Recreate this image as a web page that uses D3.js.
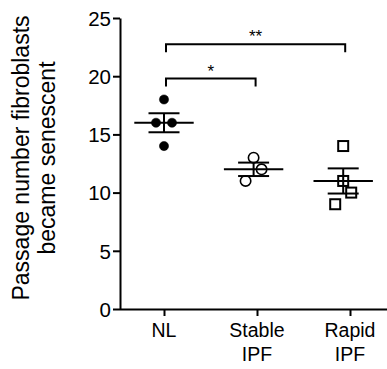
<!DOCTYPE html>
<html>
<head>
<meta charset="utf-8">
<script src="https://cdn.jsdelivr.net/npm/d3@7/dist/d3.min.js"></script>
<style>
  body { margin: 0; background: #fff; }
  svg text { font-family: "Liberation Sans", Arial, sans-serif; fill: #000; }
</style>
</head>
<body>
<div id="chart"></div>
<script>
// Data
var groups = ["NL", "Stable IPF", "Rapid IPF"];
var nlValues = [18, 16, 16, 14];
var stableValues = [13, 12, 11];
var rapidValues = [14, 11, 10, 9];
// which side of the centre each point was nudged to (-1 left, 0 centre, 1 right)
var nlCols = [0, -1, 1, 0];
var stableCols = [0, 1, -1];
var rapidCols = [0, 0, 1, -1];
var yTicks = [0, 5, 10, 15, 20, 25];
var comparisons = [
    { from: 0, to: 1, y: 19.8, label: "*" },
    { from: 0, to: 2, y: 22.75, label: "**" }
];

var svgWidth = 387;
var svgHeight = 369;
var margin = { top: 18, right: 0, bottom: 60, left: 120 };
var width = svgWidth - margin.left - margin.right;
var height = svgHeight - margin.top - margin.bottom;

var svg = d3.select("#chart")
    .append("svg")
    .attr("width", svgWidth)
    .attr("height", svgHeight);

var chartGroup = svg.append("g")
    .attr("transform", `translate(${margin.left}, ${margin.top})`);

// scales
var xScale = d3.scaleLinear().domain([0, 2]).range([44, 230]);
var yScale = d3.scaleLinear().domain([0, 25]).range([height, 0]);

// Prism drifts the scatter columns slightly left of the ticks
var groupDrift = 3.4;
function centre(i) { return xScale(i) - i * groupDrift; }

// axes
var leftAxis = d3.axisLeft(yScale)
    .tickValues(yTicks)
    .tickSizeInner(7)
    .tickSizeOuter(0)
    .tickPadding(2);

var bottomAxis = d3.axisBottom(xScale)
    .tickValues([0, 1, 2])
    .tickFormat("")
    .tickSizeInner(7)
    .tickSizeOuter(0);

var yAxisG = chartGroup.append("g").call(leftAxis);
yAxisG.selectAll("text").attr("font-size", "20.5px").attr("dy", "0.36em");

var xAxisG = chartGroup.append("g")
    .attr("transform", `translate(0, ${height})`)
    .call(bottomAxis);
xAxisG.select(".domain").attr("d", `M0,0.5H${width}`);

[yAxisG, xAxisG].forEach(function (g) {
    g.selectAll(".domain, line").attr("stroke", "#000").attr("stroke-width", 2);
});

// x category labels (two lines)
groups.forEach(function (name, i) {
    var t = chartGroup.append("text")
        .attr("x", xScale(i))
        .attr("y", height + 27.5)
        .attr("text-anchor", "middle")
        .attr("font-size", "19.5px");
    name.split(" ").forEach(function (part, j) {
        t.append("tspan")
            .attr("x", xScale(i))
            .attr("dy", j === 0 ? 0 : 24.5)
            .text(part);
    });
});

// y axis title
var yTitle = chartGroup.append("text")
    .attr("transform", "rotate(-90)")
    .attr("text-anchor", "middle")
    .attr("font-size", "23px");
yTitle.append("tspan")
    .attr("x", -(158 - margin.top))
    .attr("y", 28.5 - margin.left)
    .text("Passage number fibroblasts");
yTitle.append("tspan")
    .attr("x", -(158 - margin.top))
    .attr("y", 54.5 - margin.left)
    .text("became senescent");

// points, mean and SEM
var series = [
    { values: nlValues, cols: nlCols, shape: "filled" },
    { values: stableValues, cols: stableCols, shape: "open" },
    { values: rapidValues, cols: rapidCols, shape: "square" }
];
var jitter = 8;
var meanHalf = 29.7;
var capHalf = 15.5;

series.forEach(function (s, i) {
    var cx = centre(i);
    var pts = s.values.map(function (v, k) { return { v: v, c: s.cols[k] }; });
    var g = chartGroup.append("g");

    if (s.shape === "square") {
        g.selectAll("rect")
            .data(pts)
            .enter()
            .append("rect")
            .attr("x", d => cx + d.c * jitter - 5)
            .attr("y", d => yScale(d.v) - 5)
            .attr("width", 10)
            .attr("height", 10)
            .attr("fill", "none")
            .attr("stroke", "#000")
            .attr("stroke-width", 2);
    } else {
        g.selectAll("circle")
            .data(pts)
            .enter()
            .append("circle")
            .attr("cx", d => cx + d.c * jitter)
            .attr("cy", d => yScale(d.v))
            .attr("r", s.shape === "filled" ? 4.6 : 5.2)
            .attr("fill", s.shape === "filled" ? "#000" : "none")
            .attr("stroke", "#000")
            .attr("stroke-width", s.shape === "filled" ? 0.5 : 1.6);
    }

    var mean = d3.mean(s.values);
    var sem = d3.deviation(s.values) / Math.sqrt(s.values.length);
    var lines = [
        [cx - meanHalf, yScale(mean), cx + meanHalf, yScale(mean)],
        [cx - capHalf, yScale(mean + sem), cx + capHalf, yScale(mean + sem)],
        [cx - capHalf, yScale(mean - sem), cx + capHalf, yScale(mean - sem)],
        [cx, yScale(mean + sem), cx, yScale(mean - sem)]
    ];
    g.selectAll("line")
        .data(lines)
        .enter()
        .append("line")
        .attr("x1", d => d[0])
        .attr("y1", d => d[1])
        .attr("x2", d => d[2])
        .attr("y2", d => d[3])
        .attr("stroke", "#000")
        .attr("stroke-width", 2);
});

// significance brackets
var legDrop = 8;
comparisons.forEach(function (c) {
    var x1 = centre(c.from) + 2;
    var x2 = centre(c.to) + 2;
    var y = yScale(c.y);
    chartGroup.append("path")
        .attr("d", `M${x1},${y + legDrop}V${y}H${x2}V${y + legDrop}`)
        .attr("fill", "none")
        .attr("stroke", "#000")
        .attr("stroke-width", 2);
    chartGroup.append("text")
        .attr("x", (x1 + x2) / 2)
        .attr("y", y - 2)
        .attr("text-anchor", "middle")
        .attr("font-size", "17px")
        .text(c.label);
});
</script>
</body>
</html>
